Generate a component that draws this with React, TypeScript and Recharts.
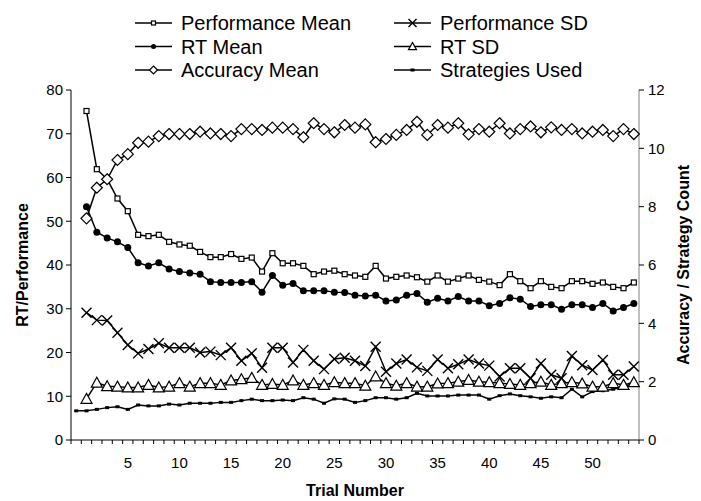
import React from 'react';
import { ComposedChart, Line, XAxis, YAxis } from 'recharts';

const trials = [0, 1, 2, 3, 4, 5, 6, 7, 8, 9, 10, 11, 12, 13, 14, 15, 16, 17, 18, 19, 20, 21, 22, 23, 24, 25, 26, 27, 28, 29, 30, 31, 32, 33, 34, 35, 36, 37, 38, 39, 40, 41, 42, 43, 44, 45, 46, 47, 48, 49, 50, 51, 52, 53, 54];

// trials 1..54
const perfMean = [75.2, 61.9, 59.6, 55.2, 52.3, 46.9, 46.6, 46.9, 45.3, 44.7, 44.4, 43.0, 41.8, 41.8, 42.5, 41.4, 41.7, 38.5, 42.7, 40.4, 40.4, 39.8, 37.9, 38.5, 38.7, 37.9, 37.6, 37.3, 39.8, 36.9, 37.3, 37.6, 37.2, 36.2, 37.6, 36.2, 36.9, 37.6, 36.6, 36.2, 35.4, 37.9, 36.3, 34.7, 36.3, 35.0, 34.7, 36.3, 36.3, 35.7, 36.0, 35.0, 34.7, 36.0];
const perfSD = [29.1, 27.4, 27.3, 24.5, 21.7, 19.8, 20.8, 22.1, 21.1, 21.1, 21.1, 20.0, 20.2, 19.4, 21.1, 18.1, 19.8, 16.5, 21.1, 21.1, 17.7, 20.6, 18.1, 16.2, 18.5, 18.8, 18.1, 16.9, 21.3, 15.6, 17.5, 18.4, 16.6, 15.8, 18.4, 16.4, 17.3, 18.4, 17.5, 17.0, 14.5, 16.4, 16.4, 14.1, 17.5, 14.9, 14.1, 19.2, 17.1, 16.0, 18.3, 14.9, 14.9, 16.8];
const rtMean = [53.3, 47.5, 46.2, 45.3, 44.0, 40.5, 39.8, 40.5, 39.1, 38.5, 38.2, 37.9, 36.2, 36.0, 36.0, 36.0, 36.2, 33.8, 37.6, 35.4, 35.8, 34.1, 34.1, 34.1, 33.8, 33.7, 33.1, 32.9, 33.1, 31.8, 32.0, 33.1, 33.5, 31.5, 32.4, 31.8, 32.8, 31.8, 31.8, 30.7, 31.2, 32.5, 32.2, 30.5, 30.9, 30.9, 29.9, 30.9, 30.9, 30.3, 31.2, 29.5, 30.3, 31.2];
const rtSD = [9.4, 13.1, 12.3, 12.2, 12.0, 12.0, 12.6, 12.0, 12.2, 13.0, 12.2, 13.0, 13.0, 12.6, 13.6, 13.9, 14.2, 12.6, 12.8, 12.6, 13.6, 12.6, 13.0, 12.6, 13.2, 13.0, 13.0, 12.4, 14.5, 13.0, 12.4, 13.0, 12.2, 12.2, 12.9, 13.0, 13.3, 13.7, 13.3, 13.2, 13.0, 12.8, 12.6, 13.0, 13.3, 12.6, 13.0, 13.2, 12.9, 12.2, 12.2, 13.0, 12.6, 13.2];
const accuracyMean = [7.60, 8.65, 8.94, 9.60, 9.80, 10.19, 10.23, 10.42, 10.49, 10.49, 10.49, 10.57, 10.51, 10.49, 10.42, 10.66, 10.66, 10.63, 10.71, 10.71, 10.66, 10.38, 10.86, 10.66, 10.55, 10.80, 10.71, 10.82, 10.21, 10.32, 10.46, 10.63, 10.91, 10.46, 10.80, 10.71, 10.86, 10.48, 10.66, 10.57, 10.86, 10.51, 10.66, 10.75, 10.55, 10.72, 10.63, 10.66, 10.51, 10.57, 10.63, 10.42, 10.66, 10.49];
// trials 0..54
const strategiesUsed = [1.00, 1.00, 1.05, 1.11, 1.14, 1.05, 1.20, 1.17, 1.17, 1.23, 1.20, 1.26, 1.26, 1.26, 1.29, 1.29, 1.35, 1.40, 1.35, 1.35, 1.37, 1.35, 1.45, 1.40, 1.26, 1.41, 1.40, 1.29, 1.35, 1.45, 1.45, 1.40, 1.45, 1.60, 1.51, 1.51, 1.51, 1.54, 1.54, 1.54, 1.40, 1.52, 1.58, 1.52, 1.48, 1.43, 1.48, 1.45, 1.74, 1.48, 1.66, 1.69, 1.74, 1.83, 1.94];

const xTickLabels = [5, 10, 15, 20, 25, 30, 35, 40, 45, 50];
const leftTicks = [0, 10, 20, 30, 40, 50, 60, 70, 80];
const rightTicks = [0, 2, 4, 6, 8, 10, 12];

const data = trials.map((t, i) => ({
  trial: t,
  perfMean: i === 0 ? null : perfMean[i - 1],
  perfSD: i === 0 ? null : perfSD[i - 1],
  rtMean: i === 0 ? null : rtMean[i - 1],
  rtSD: i === 0 ? null : rtSD[i - 1],
  accuracy: i === 0 ? null : accuracyMean[i - 1],
  strategies: strategiesUsed[i],
}));

const FONT = '"Liberation Sans", Arial, sans-serif';
const xBoundaryTicks = trials.map((t) => t - 0.5).concat([trials[trials.length - 1] + 0.5]);

const PLOT_W = 568;
const HALF_STEP = PLOT_W / trials.length / 2;

type MarkProps = { cx?: number; cy?: number; s?: number };

const SquareMark = ({ cx, cy, s = 5 }: MarkProps) =>
  cx == null || cy == null ? <g /> : (
    <rect x={cx - s / 2} y={cy - s / 2} width={s} height={s} fill="#fff" stroke="#000" strokeWidth={1.2} />
  );
const XMark = ({ cx, cy, s = 5 }: MarkProps) =>
  cx == null || cy == null ? <g /> : (
    <g stroke="#000" strokeWidth={1.4}>
      <line x1={cx - s} y1={cy - s} x2={cx + s} y2={cy + s} />
      <line x1={cx - s} y1={cy + s} x2={cx + s} y2={cy - s} />
    </g>
  );
const CircleMark = ({ cx, cy, s = 3.5 }: MarkProps) =>
  cx == null || cy == null ? <g /> : <circle cx={cx} cy={cy} r={s} fill="#000" />;
const TriMark = ({ cx, cy, s = 5.5 }: MarkProps) =>
  cx == null || cy == null ? <g /> : (
    <polygon
      points={`${cx},${cy - s} ${cx + s},${cy + s * 0.8} ${cx - s},${cy + s * 0.8}`}
      fill="#fff"
      stroke="#000"
      strokeWidth={1.2}
    />
  );
const DiamondMark = ({ cx, cy, s = 5.5 }: MarkProps) =>
  cx == null || cy == null ? <g /> : (
    <polygon
      points={`${cx},${cy - s} ${cx + s},${cy} ${cx},${cy + s} ${cx - s},${cy}`}
      fill="#fff"
      stroke="#000"
      strokeWidth={1.2}
    />
  );
const DashMark = ({ cx, cy, s = 2 }: MarkProps) =>
  cx == null || cy == null ? <g /> : <rect x={cx - s} y={cy - s * 0.75} width={s * 2} height={s * 1.5} fill="#000" />;

const dotFn = (Comp: any, name: string) => (p: any) => <Comp key={`${name}-${p.index}`} cx={p.cx} cy={p.cy} />;

const XTick = (props: any) => {
  const { x, y, payload } = props;
  const v = payload.value + 0.5;
  if (!xTickLabels.includes(v)) return <g />;
  return (
    <text x={x + HALF_STEP} y={y + 16} textAnchor="middle" dominantBaseline="central" fontSize={15} fontFamily={FONT} fill="#000">
      {v}
    </text>
  );
};

const XTitle = (props: any) => {
  const { x, y, width } = props.viewBox;
  return (
    <text x={x + width / 2} y={y + 50} textAnchor="middle" dominantBaseline="central" fontSize={16} fontWeight="bold" fontFamily={FONT} fill="#000">
      Trial Number
    </text>
  );
};
const LeftTitle = (props: any) => {
  const { x, y, height } = props.viewBox;
  const cx = x + 1;
  const cy = y + height / 2;
  return (
    <text x={cx} y={cy} transform={`rotate(-90 ${cx} ${cy})`} textAnchor="middle" dominantBaseline="central" fontSize={16} fontWeight="bold" fontFamily={FONT} fill="#000">
      RT/Performance
    </text>
  );
};
const RightTitle = (props: any) => {
  const { x, y, height } = props.viewBox;
  const cx = x + 44;
  const cy = y + height / 2;
  return (
    <text x={cx} y={cy} transform={`rotate(-90 ${cx} ${cy})`} textAnchor="middle" dominantBaseline="central" fontSize={16} fontWeight="bold" fontFamily={FONT} fill="#000">
      Accuracy / Strategy Count
    </text>
  );
};

const legendItems = [
  { name: 'Performance Mean', Mark: SquareMark, s: 4, col: 0, row: 0 },
  { name: 'Performance SD', Mark: XMark, s: 4, col: 1, row: 0 },
  { name: 'RT Mean', Mark: CircleMark, s: 2.5, col: 0, row: 1 },
  { name: 'RT SD', Mark: TriMark, s: 4, col: 1, row: 1 },
  { name: 'Accuracy Mean', Mark: DiamondMark, s: 4, col: 0, row: 2 },
  { name: 'Strategies Used', Mark: DashMark, s: 2, col: 1, row: 2 },
];

const LegendOverlay = () => (
  <svg width={701} height={90} style={{ position: 'absolute', left: 0, top: 0 }}>
    {legendItems.map((it) => {
      const x0 = it.col === 0 ? 135 : 394;
      const y = 23 + it.row * 23.5;
      const M = it.Mark;
      return (
        <g key={it.name}>
          <line x1={x0} y1={y} x2={x0 + 37} y2={y} stroke="#000" strokeWidth={1.5} />
          <M cx={x0 + 18.5} cy={y} s={it.s} />
          <text x={x0 + 46} y={y} dominantBaseline="central" fontSize={20} fontFamily={FONT} fill="#000">
            {it.name}
          </text>
        </g>
      );
    })}
  </svg>
);

export default function App() {
  return (
    <div style={{ position: 'absolute', left: 0, top: 0, width: 701, height: 501, background: '#fff' }}>
      <ComposedChart width={701} height={501} data={data} margin={{ top: 90, right: 12, bottom: 11, left: 21 }}>
        <XAxis
          dataKey="trial"
          type="number"
          domain={[-0.5, 54.5]}
          ticks={xBoundaryTicks}
          interval={0}
          tickSize={4}
          tickLine={{ stroke: '#000' }}
          axisLine={{ stroke: '#000' }}
          tick={<XTick />}
          height={50}
          label={{ content: XTitle }}
        />
        <YAxis
          yAxisId="left"
          domain={[0, 80]}
          ticks={leftTicks}
          interval={0}
          width={50}
          tickSize={5}
          tickMargin={3}
          tickLine={{ stroke: '#000' }}
          axisLine={{ stroke: '#000' }}
          tick={{ fill: '#000', fontSize: 15, fontFamily: FONT }}
          label={{ content: LeftTitle }}
        />
        <YAxis
          yAxisId="right"
          orientation="right"
          domain={[0, 12]}
          ticks={rightTicks}
          interval={0}
          width={50}
          tickSize={5}
          tickMargin={4}
          tickLine={{ stroke: '#000' }}
          axisLine={{ stroke: '#808080' }}
          tick={{ fill: '#000', fontSize: 15, fontFamily: FONT }}
          label={{ content: RightTitle }}
        />
        <Line yAxisId="right" dataKey="strategies" stroke="#000" strokeWidth={1.5} dot={dotFn(DashMark, 'st')} isAnimationActive={false} />
        <Line yAxisId="left" dataKey="rtSD" stroke="#000" strokeWidth={1.5} dot={dotFn(TriMark, 'rs')} isAnimationActive={false} />
        <Line yAxisId="left" dataKey="perfSD" stroke="#000" strokeWidth={1.5} dot={dotFn(XMark, 'ps')} isAnimationActive={false} />
        <Line yAxisId="left" dataKey="rtMean" stroke="#000" strokeWidth={1.5} dot={dotFn(CircleMark, 'rm')} isAnimationActive={false} />
        <Line yAxisId="left" dataKey="perfMean" stroke="#000" strokeWidth={1.5} dot={dotFn(SquareMark, 'pm')} isAnimationActive={false} />
        <Line yAxisId="right" dataKey="accuracy" stroke="#000" strokeWidth={1.5} dot={dotFn(DiamondMark, 'ac')} isAnimationActive={false} />
      </ComposedChart>
      <LegendOverlay />
    </div>
  );
}
